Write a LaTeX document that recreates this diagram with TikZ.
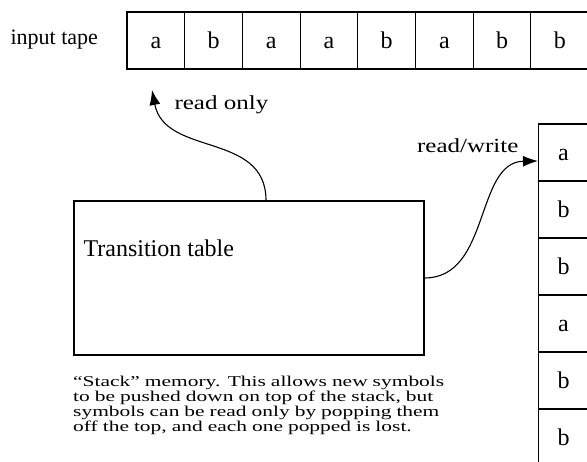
\documentclass[tikz,border=0pt]{standalone}
\usepackage{fontspec}
\setmainfont{Liberation Serif}
\newfontfamily\labelfont[FakeStretch=1.25,Ligatures=TeX]{Liberation Serif}
\newfontfamily\stackcapfont[FakeStretch=1.43,Ligatures=TeX]{Liberation Serif}
\usepackage{tikz}
\usetikzlibrary{arrows.meta, positioning, calc}
\tikzstyle{tapecell} = [
    rectangle,
    draw=black,
    line width=1.1pt,
    minimum width=57.7pt,
    minimum height=57pt,
    inner sep=0pt,
    text height=15.6pt,
    text depth=0pt,
    font=\fontsize{24}{24}\selectfont
]
\tikzstyle{stackcell} = [
    tapecell,
    minimum width=50pt
]
\tikzstyle{tablebox} = [
    rectangle,
    draw=black,
    line width=1.2pt,
    minimum width=350pt,
    minimum height=154pt
]
\tikzstyle{arrow} = [
    line width=1.1pt,
    ->,
    >={Latex[length=15pt, width=11pt]}
]

\begin{document}
\begin{tikzpicture}[x=1pt, y=1pt]
        \useasboundingbox (0,0) rectangle (587,462);
        \clip (0,0) rectangle (587,462);

        % Input tape
        \foreach \sym [count=\i] in {a,b,a,a,b,a,b,b}
            \node[tapecell] (t\i) at ({127+57.7*(\i-0.5)}, 421.5) {\sym};
        \node[anchor=base east, font=\fontsize{22}{22}\selectfont] (inlabel) at ([xshift=-25pt, yshift=-4.5pt]t1.west) {input tape};

        % Stack
        \foreach \sym [count=\i] in {a,b,b,a,b,b}
            \node[stackcell] (s\i) at (563.5, {309.5-57*(\i-1)}) {\sym};

        % Transition table
        \node[tablebox] (table) at (249, 184) {};
        \node[anchor=base west, font=\fontsize{24}{24}\selectfont] (tablelabel) at (80, 205) {Transition table};

        % Arrows
        \coordinate (rotip) at (152, 372);
        \draw[arrow] ([xshift=17pt]table.north) .. controls +(0,69) and +(13,-67) .. (rotip);
        \node[anchor=base west, font=\labelfont\fontsize{20}{20}\selectfont] (rolabel) at ([xshift=19pt, yshift=-20pt]rotip) {read only};
        \draw[arrow] (table.east) .. controls +(66,0) and +(-63,-1) .. ([yshift=-8.5pt]s1.west);
        \node[anchor=base east, font=\labelfont\fontsize{20}{20}\selectfont] (rwlabel) at ([xshift=-16pt]s1.west) {read/write};

        % Caption
        \node[anchor=north west, text width=400pt, align=left, inner sep=0pt,
              font={\stackcapfont\fontsize{15}{15}\selectfont\lineskiplimit=-\maxdimen}] (caption) at (73, 86.5)
            {``Stack'' memory. This allows new symbols\\
             to be pushed down on top of the stack, but\\
             symbols can be read only by popping them\\
             off the top, and each one popped is lost.};
    \end{tikzpicture}
\end{document}
